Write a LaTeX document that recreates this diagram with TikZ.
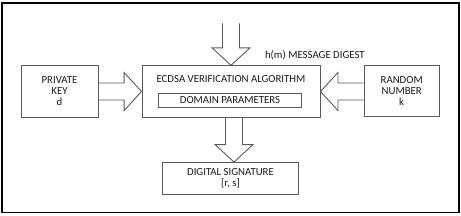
\documentclass[tikz,border=0pt]{standalone}
\usepackage{fontspec}
\setmainfont{Carlito}
\usetikzlibrary{calc}

\begin{document}
\begin{tikzpicture}[
        x = 1pt, y = -1pt,
        every node/.style = {font = \fontsize{10.8}{11}\selectfont, text = black!90},
        block/.style = {draw = black!65, line width = 0.9pt, inner sep = 0pt, align = center},
        frame/.style = {draw = black, line width = 1.2pt},
        hfat/.style = {draw = black!65, line width = 0.9pt, to path = {
            let \p1 = (\tikztostart), \p2 = (\tikztotarget), \n1 = {sign(\x2-\x1)} in
            (\x1,\y1+8.5pt) -- (\x2-\n1*17.5pt,\y1+8.5pt) -- (\x2-\n1*17.5pt,\y1+19pt) -- (\x2,\y2)
            -- (\x2-\n1*17.5pt,\y1-19pt) -- (\x2-\n1*17.5pt,\y1-8.5pt) -- (\x1,\y1-8.5pt)}},
        vfat/.style = {draw = black!65, line width = 0.9pt, to path = {
            let \p1 = (\tikztostart), \p2 = (\tikztotarget), \n1 = {sign(\y2-\y1)} in
            (\x1+8.5pt,\y1) -- (\x1+8.5pt,\y2-\n1*17.5pt) -- (\x1+19pt,\y2-\n1*17.5pt) -- (\x2,\y2)
            -- (\x1-19pt,\y2-\n1*17.5pt) -- (\x1-8.5pt,\y2-\n1*17.5pt) -- (\x1-8.5pt,\y1)}}
    ]

        \useasboundingbox (0,0) rectangle (461,215);
        \draw[frame] (2,3) rectangle (459,212.5);

        % boxes
        \node[block, minimum width = 178pt, minimum height = 51.5pt] (main) at (231,91.5) {};
        \node[anchor = base] (title) at (231,82.5) {ECDSA VERIFICATION ALGORITHM};
        \node[block, minimum width = 143pt, minimum height = 14pt] (dom) at (230,100) {DOMAIN PARAMETERS};
        \node[block, minimum width = 77pt, minimum height = 51.5pt] (key) at (59.5,91.3) {PRIVATE\\KEY\\d};
        \node[block, minimum width = 75.5pt, minimum height = 51pt] (rand) at (401.7,91.3) {RANDOM\\NUMBER\\k};
        \node[block, minimum width = 136pt, minimum height = 32pt] (sig) at (230.5,178.5) {DIGITAL SIGNATURE\\{[r, s]}};

        \coordinate (hm) at (231,23.3);
        \node[anchor = base west] (digest) at (261.5,58) {h(m) MESSAGE DIGEST};
        \coordinate (out) at ([xshift = 3pt]main.south);

        % block arrows
        \draw[vfat] (hm) to (hm |- main.north);
        \draw[hfat] (key.east |- main.west) to (main.west);
        \draw[hfat] (rand.west |- main.east) to (main.east);
        \draw[vfat] (out) to (out |- sig.north);

\end{tikzpicture}
\end{document}
